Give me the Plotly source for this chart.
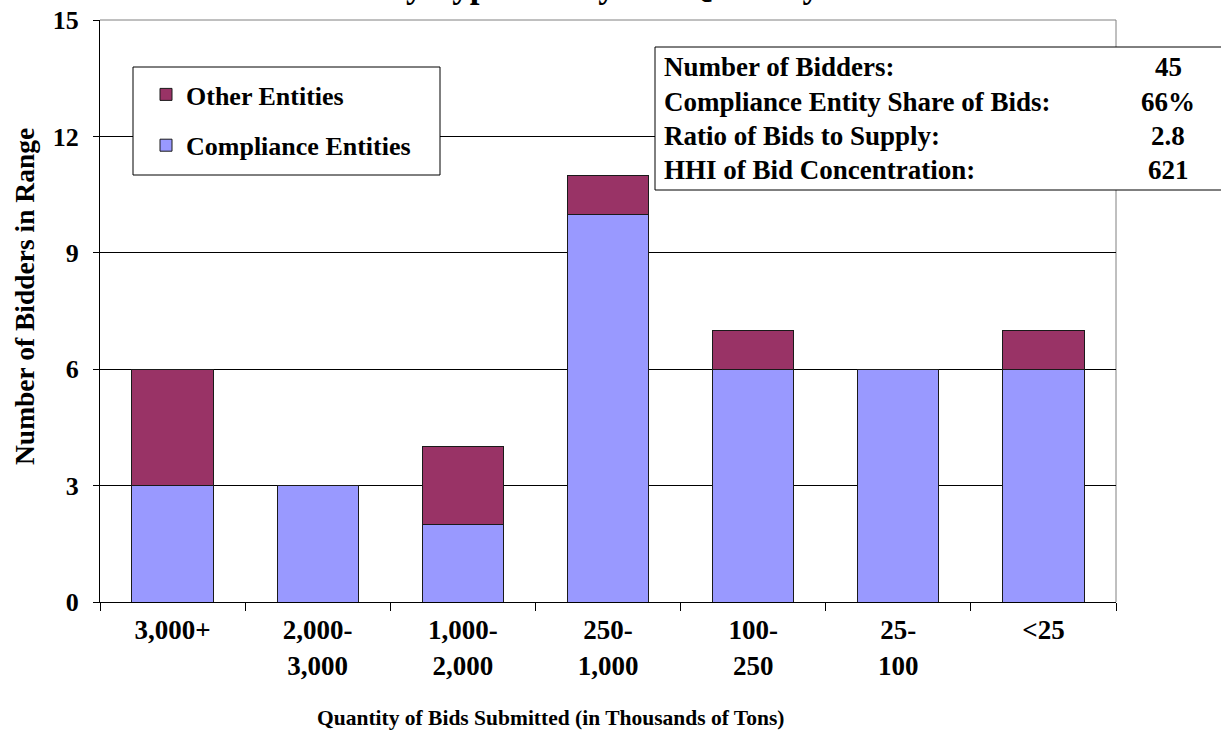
import plotly.graph_objects as go

categories = ["3,000+<br>", "2,000-<br>3,000", "1,000-<br>2,000", "250-<br>1,000",
              "100-<br>250", "25-<br>100", "<25<br>"]
compliance = [3, 3, 2, 10, 6, 6, 6]
other = [3, 0, 2, 1, 1, 0, 1]

stat_labels = ["Number of Bidders:", "Compliance Entity Share of Bids:",
               "Ratio of Bids to Supply:", "HHI of Bid Concentration:"]
stat_values = ["45", "66%", "2.8", "621"]

FONT = "Liberation Serif, Times New Roman, serif"
W, H = 1221, 731
L, R, T, B = 100, 105, 20, 129
PW, PH = W - L - R, H - T - B


def px(x):
    return (x - L) / PW


def py(y):
    return (H - B - y) / PH


def bold(size):
    return dict(family=FONT, size=size, color="black", weight="bold")


fig = go.Figure()
fig.add_trace(go.Bar(
    x=categories, y=compliance, name="Compliance Entities",
    marker=dict(color="#9999FF", line=dict(color="#1a1a1a", width=1)),
    legendgroup="c", legendrank=2))
fig.add_trace(go.Bar(
    x=categories, y=other, name="Other Entities",
    marker=dict(color="#993366", line=dict(color="#1a1a1a", width=1)),
    legendgroup="o", legendrank=1))

shapes = [
    # plot area top and right border (gray)
    dict(type="line", xref="paper", yref="paper", x0=0, x1=1, y0=1, y1=1,
         line=dict(color="#808080", width=1), layer="between"),
    dict(type="line", xref="paper", yref="paper", x0=1, x1=1, y0=0, y1=1,
         line=dict(color="#808080", width=1), layer="between"),
    # legend box
    dict(type="rect", xref="paper", yref="paper", x0=px(133), x1=px(440),
         y0=py(175), y1=py(67), fillcolor="white",
         line=dict(color="black", width=1), layer="above"),
    # stats box
    dict(type="rect", xref="paper", yref="paper", x0=px(655), x1=px(1230),
         y0=py(190), y1=py(47), fillcolor="white",
         line=dict(color="black", width=1), layer="above"),
]

annotations = []
row_y = [67, 102, 136, 170]
for lab, val, yy in zip(stat_labels, stat_values, row_y):
    annotations.append(dict(text=lab, xref="paper", yref="paper", x=px(662), y=py(yy),
                            xanchor="left", yanchor="middle", showarrow=False,
                            font=bold(27)))
    annotations.append(dict(text=val, xref="paper", yref="paper", x=px(1168), y=py(yy),
                            xanchor="center", yanchor="middle", showarrow=False,
                            font=bold(27)))

# chart title (mostly cut off at the top of the image, as in the source)
annotations.append(dict(text="Bidders by Type and by Bid Quantity", xref="paper", yref="paper",
                        x=px(259), y=py(-14), xanchor="left", yanchor="middle",
                        showarrow=False, font=bold(35)))

# axis titles (placed as in the source, not centred on the plot)
annotations.append(dict(text="Quantity of Bids Submitted (in Thousands of Tons)",
                        xref="paper", yref="paper", x=px(550), y=py(718),
                        xanchor="center", yanchor="middle", showarrow=False,
                        font=bold(21.5)))
annotations.append(dict(text="Number of Bidders in Range", textangle=-90,
                        xref="paper", yref="paper", x=px(24), y=py(297),
                        xanchor="center", yanchor="middle", showarrow=False,
                        font=bold(27.5)))

fig.update_layout(
    width=W, height=H,
    margin=dict(l=L, r=R, t=T, b=B, autoexpand=False),
    paper_bgcolor="white", plot_bgcolor="white",
    barmode="stack", bargap=0.44,
    font=bold(26),
    showlegend=True,
    legend=dict(x=px(146), y=py(71), xanchor="left", yanchor="top",
                bgcolor="rgba(0,0,0,0)", borderwidth=0,
                traceorder="grouped", tracegroupgap=14,
                font=bold(26)),
    shapes=shapes, annotations=annotations,
    xaxis=dict(
        type="category", tickson="boundaries", ticks="outside", ticklen=8,
        tickcolor="black", showline=True, linecolor="black", linewidth=1,
        showgrid=False, ticklabelstandoff=4,
        tickfont=bold(27),
    ),
    yaxis=dict(
        range=[0, 15], tickvals=[0, 3, 6, 9, 12, 15], ticks="outside", ticklen=6,
        tickcolor="black", showline=True, linecolor="black", linewidth=1,
        showgrid=True, gridcolor="black", gridwidth=1, zeroline=False,
        ticklabelstandoff=9,
        tickfont=bold(26),
    ),
)

fig.write_html("out.html", config={"displayModeBar": False},
               post_script="document.body.style.margin='0';")
